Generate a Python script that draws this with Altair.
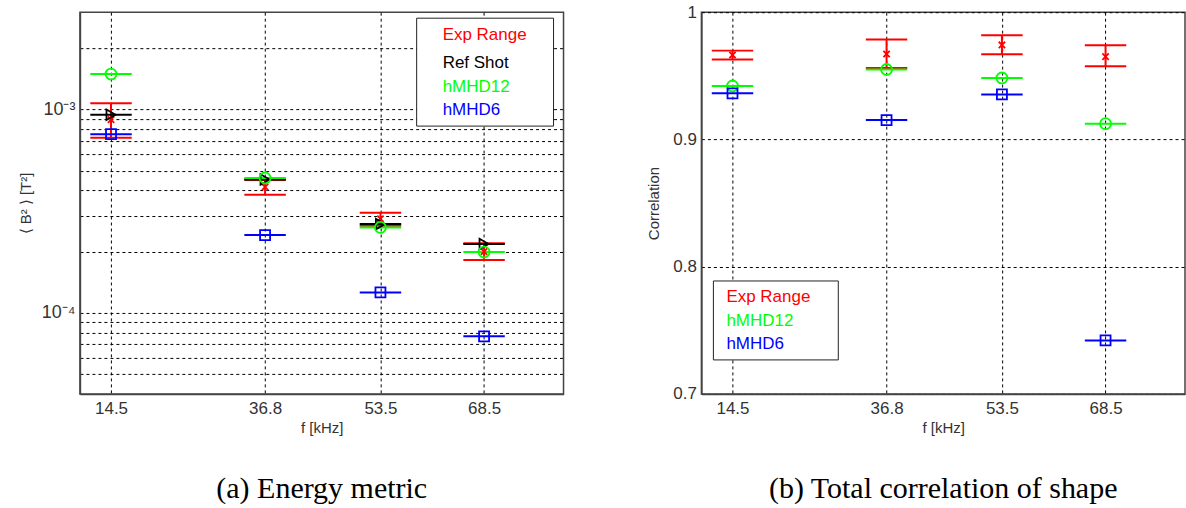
import altair as alt
import pandas as pd

FREQS = [14.5, 36.8, 53.5, 68.5]
SERIES_A = ["Exp Range", "Ref Shot", "hMHD12", "hMHD6"]
SERIES_B = ["Exp Range", "hMHD12", "hMHD6"]

# (a) Energy metric  <B^2> [T^2]
EXP_LO_A = [7.25e-4, 3.80e-4, 2.68e-4, 1.82e-4]
EXP_HI_A = [1.07e-3, 4.50e-4, 3.10e-4, 2.20e-4]
EXP_MID_A = [8.90e-4, 4.15e-4, 2.90e-4, 2.00e-4]
REF_A = [9.40e-4, 4.52e-4, 2.73e-4, 2.18e-4]
HMHD12_A = [1.49e-3, 4.60e-4, 2.63e-4, 1.99e-4]
HMHD6_A = [7.55e-4, 2.41e-4, 1.26e-4, 7.67e-5]

# (b) Total correlation of shape
EXP_LO_B = [0.9628, 0.9561, 0.9669, 0.9575]
EXP_HI_B = [0.9698, 0.9785, 0.9819, 0.9740]
EXP_MID_B = [0.9664, 0.9672, 0.9743, 0.9651]
HMHD12_B = [0.9420, 0.9550, 0.9483, 0.9124]
HMHD6_B = [0.9362, 0.9152, 0.9354, 0.7420]

GRID_A = [5e-5, 6e-5, 7e-5, 8e-5, 9e-5, 1e-4, 2e-4, 3e-4, 4e-4, 5e-4,
          6e-4, 7e-4, 8e-4, 9e-4, 1e-3, 2e-3]
GRID_B = [0.7, 0.8, 0.9, 1.0]

COLOR = {"Exp Range": "#ff0000", "Ref Shot": "#000000",
         "hMHD12": "#00ff00", "hMHD6": "#0000ff"}
SHAPE = {"Exp Range": "M-1,-1L1,1M-1,1L1,-1", "Ref Shot": "triangle-right",
         "hMHD12": "circle", "hMHD6": "square"}
SIZE = {"Exp Range": 40, "Ref Shot": 110, "hMHD12": 120, "hMHD6": 100}

HALF = 3.0  # half width of the horizontal bars, in kHz

W, H = 484, 382
LABEL_FONT = "Liberation Sans"


def panel(series_vals, lo, hi, xscale, yscale, yaxis, legend_items, legend_box,
          legend_y0, legend_steps, legend_x, caption):
    # horizontal segments in drawing order (all red, then each series)
    rows = []
    for f, a, b in zip(FREQS, hi, lo):
        rows.append({"f": f, "val": a, "series": "Exp Range"})
        rows.append({"f": f, "val": b, "series": "Exp Range"})
    for name, vals in series_vals[1:]:
        for f, v in zip(FREQS, vals):
            rows.append({"f": f, "val": v, "series": name})
    segs = pd.DataFrame(rows)
    vert = pd.DataFrame({"f": FREQS, "lo": lo, "hi": hi})

    cscale = alt.Scale(domain=list(COLOR.keys()), range=list(COLOR.values()))
    xaxis = alt.Axis(values=FREQS, format=".1f", title="f [kHz]", grid=True,
                     ticks=False, labelPadding=7, titlePadding=4)

    vrule = alt.Chart(vert).mark_rule(color="#ff0000", strokeWidth=2).encode(
        x=alt.X("f:Q", scale=xscale, axis=xaxis),
        y=alt.Y("lo:Q", scale=yscale, axis=yaxis),
        y2="hi:Q",
    )
    hrule = alt.Chart(segs).transform_calculate(
        x0=f"datum.f - {HALF}", x1=f"datum.f + {HALF}"
    ).mark_rule(strokeWidth=2).encode(
        x=alt.X("x0:Q", scale=xscale),
        x2="x1:Q",
        y=alt.Y("val:Q", scale=yscale),
        color=alt.Color("series:N", scale=cscale, legend=None),
    )
    layers = [vrule, hrule]
    for name, vals in series_vals:
        dfp = pd.DataFrame({"f": FREQS, "val": vals})
        layers.append(
            alt.Chart(dfp).mark_point(
                shape=SHAPE[name], size=SIZE[name], filled=False,
                strokeWidth=1.8, color=COLOR[name], opacity=1,
            ).encode(x=alt.X("f:Q", scale=xscale), y=alt.Y("val:Q", scale=yscale))
        )
    one = pd.DataFrame({"k": [0]})
    x0, x1, y0, y1 = legend_box
    layers.append(
        alt.Chart(one).mark_rect(fill="white", stroke="#222222", strokeWidth=1).encode(
            x=alt.value(x0), x2=alt.value(x1), y=alt.value(y0), y2=alt.value(y1)
        )
    )
    ypos = legend_y0
    for i, name in enumerate(legend_items):
        if i > 0:
            ypos += legend_steps[i - 1]
        layers.append(
            alt.Chart(one).mark_text(
                text=name, align="left", baseline="alphabetic", font=LABEL_FONT,
                fontSize=17, color=COLOR[name],
            ).encode(x=alt.value(legend_x), y=alt.value(ypos))
        )
    return alt.layer(*layers).properties(
        width=W, height=H,
        title=alt.TitleParams(caption, orient="bottom", font="Liberation Serif",
                              fontSize=30, fontWeight="normal", color="#000000",
                              offset=38, anchor="middle"),
    )


xscale = alt.Scale(domain=[10, 80], nice=False, zero=False)

yscale_a = alt.Scale(type="log", domain=[4e-5, 3e-3], nice=False)
yaxis_a = alt.Axis(
    values=GRID_A, grid=True, ticks=False, title="⟨ B² ⟩ [T²]",
    labelExpr="abs(log(datum.value)/LN10 + 3) < 0.01 ? '10⁻³' : "
              "(abs(log(datum.value)/LN10 + 4) < 0.01 ? '10⁻⁴' : '')",
    labelPadding=5, titlePadding=8, labelFontSize=18,
)
left = panel(
    [("Exp Range", EXP_MID_A), ("Ref Shot", REF_A), ("hMHD12", HMHD12_A),
     ("hMHD6", HMHD6_A)],
    EXP_LO_A, EXP_HI_A, xscale, yscale_a, yaxis_a,
    SERIES_A, (337, 474, 6, 114), 28, [28, 23.5, 23.5], 363,
    "(a) Energy metric",
)

yscale_b = alt.Scale(domain=[0.7, 1.0], nice=False, zero=False)
yaxis_b = alt.Axis(
    values=GRID_B, grid=True, ticks=False, title="Correlation",
    labelExpr="format(datum.value, '.1~f')", labelPadding=5, titlePadding=11,
)
right = panel(
    [("Exp Range", EXP_MID_B), ("hMHD12", HMHD12_B), ("hMHD6", HMHD6_B)],
    EXP_LO_B, EXP_HI_B, xscale, yscale_b, yaxis_b,
    SERIES_B, (12, 137, 269, 348), 290, [24, 23.5], 25,
    "(b) Total correlation of shape",
)

chart = alt.hconcat(left, right, spacing=81).properties(
    padding={"left": 17, "top": 2, "right": 0, "bottom": 0},
    background="white",
).configure_view(
    stroke="#444444", strokeWidth=1.5,
).configure_axis(
    gridColor="#000000", gridDash=[3, 3], gridOpacity=1, gridWidth=1,
    domainColor="#444444", domainWidth=1.5,
    labelFont=LABEL_FONT, labelFontSize=17, labelColor="#333333",
    titleFont=LABEL_FONT, titleFontSize=15, titleFontWeight="normal",
    titleColor="#333333",
)

chart.save("out.html", embed_options={"renderer": "svg", "actions": False})
